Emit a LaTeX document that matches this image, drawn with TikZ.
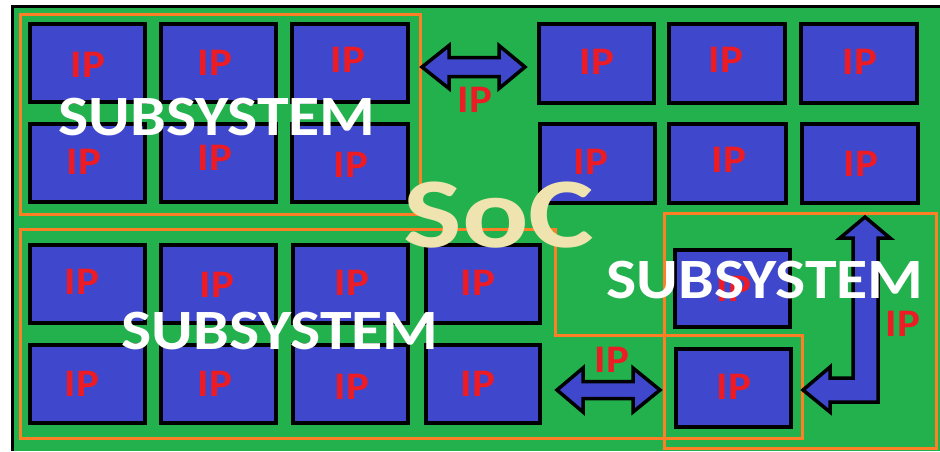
\documentclass[tikz,border=0pt]{standalone}
\usepackage{fontspec}
\setmainfont{Carlito}
\definecolor{pgreen}{HTML}{22B14C}
\definecolor{pblue}{HTML}{3F48CC}
\definecolor{pred}{HTML}{ED1C24}
\definecolor{porange}{HTML}{FF7F27}
\definecolor{pcream}{HTML}{EFE4B0}
\newcommand\ipbox[5]{\node[ipbox, minimum width={#4-#2-4}, minimum height={#5-#3-4}] (#1) at ({(#2+#4)/2},{(#3+#5)/2}) {};}
\newcommand\iplabel[3]{\node[iplab] (#1) at (#2,#3) {\scalebox{1.1}[1]{IP}};}
\begin{document}
\begin{tikzpicture}[x=1pt,y=-1pt,
  ipbox/.style={draw=black, line width=4pt, fill=pblue, inner sep=0pt, rectangle},
  iplab/.style={text=pred, font=\fontsize{39}{39}\selectfont\bfseries, inner sep=0pt},
  subsys/.style={draw=porange, line width=3pt},
  arrowshape/.style={fill=pblue, draw=black, line width=3.5pt, line join=miter},
  subtext/.style={text=white, font=\fontsize{57}{57}\selectfont\bfseries, inner sep=0pt},
  soctext/.style={text=pcream, font=\fontsize{100}{100}\selectfont\bfseries, inner sep=0pt}]
\useasboundingbox (0,0) rectangle (940,451);
\fill[white] (0,0) rectangle (940,451);
\fill[pgreen] (12,6) rectangle (940,451);
\draw[black, line width=3pt] (12,451) -- (12,6) -- (940,6);
% subsystem outlines
\draw[subsys] (20,14) rectangle (420,214);
\draw[subsys] (20,229) -- (555,229) -- (555,335) -- (802,335) -- (802,438) -- (20,438) -- cycle;
\draw[subsys] (664,213) rectangle (936,448);
% top-left IP boxes
\ipbox{a1}{28}{22}{147}{104}
\ipbox{a2}{159}{22}{278}{104}
\ipbox{a3}{290}{22}{410}{104}
\ipbox{a4}{28}{122}{147}{204}
\ipbox{a5}{159}{122}{278}{204}
\ipbox{a6}{290}{122}{410}{204}
% top-right IP boxes
\ipbox{b1}{537}{22}{656}{105}
\ipbox{b2}{667}{22}{787}{105}
\ipbox{b3}{799}{22}{919}{105}
\ipbox{b4}{538}{122}{657}{205}
\ipbox{b5}{667}{122}{788}{205}
\ipbox{b6}{800}{122}{920}{205}
% bottom-left IP boxes
\ipbox{c1}{28}{243}{147}{325}
\ipbox{c2}{159}{243}{278}{325}
\ipbox{c3}{291}{243}{410}{325}
\ipbox{c4}{424}{243}{542}{325}
\ipbox{c5}{28}{343}{147}{425}
\ipbox{c6}{159}{343}{278}{425}
\ipbox{c7}{291}{343}{410}{425}
\ipbox{c8}{424}{343}{542}{425}
% bottom-right IP boxes
\ipbox{d1}{673}{248}{792}{329}
\ipbox{d2}{674}{347}{793}{429}
% arrows
\draw[arrowshape] (422,67) -- (449,45.5) -- (449,57.5) -- (499,57.5) -- (499,45.5) -- (525,67)
  -- (499,88.5) -- (499,76.5) -- (449,76.5) -- (449,88.5) -- cycle;
\draw[arrowshape] (557,390) -- (583,368) -- (583,381.5) -- (633,381.5) -- (633,368) -- (660,390)
  -- (633,412) -- (633,398.5) -- (583,398.5) -- (583,412) -- cycle;
\draw[arrowshape] (865,217) -- (890,238) -- (878,238) -- (878,402) -- (830,402) -- (830,412)
  -- (803,390) -- (830,367) -- (830,378) -- (853,378) -- (853,238) -- (840,238) -- cycle;
% IP labels
\iplabel{la1}{88}{65}
\iplabel{la2}{215}{63}
\iplabel{la3}{348}{60}
\iplabel{la4}{84}{162}
\iplabel{la5}{215}{158}
\iplabel{la6}{351}{165}
\iplabel{lb1}{597}{62}
\iplabel{lb2}{726}{60}
\iplabel{lb3}{860}{62}
\iplabel{lb4}{591}{162}
\iplabel{lb5}{729}{160}
\iplabel{lb6}{861}{164}
\iplabel{lc1}{82}{282}
\iplabel{lc2}{217}{285}
\iplabel{lc3}{352}{283}
\iplabel{lc4}{478}{283}
\iplabel{lc5}{82}{384}
\iplabel{lc6}{215}{384}
\iplabel{lc7}{352}{387}
\iplabel{lc8}{478}{384}
\iplabel{ld1}{734}{289}
\iplabel{ld2}{734}{387}
\iplabel{le1}{475}{100}
\iplabel{le2}{612}{360}
\iplabel{le3}{903}{324}
% big texts
\node[soctext] (soc) at (499,215) {\scalebox{1.24}[1]{SoC}};
\node[subtext] (s1) at (217,117) {\scalebox{1.12}[1]{SUBSYSTEM}};
\node[subtext] (s2) at (280,331) {\scalebox{1.12}[1]{SUBSYSTEM}};
\node[subtext] (s3) at (765,280) {\scalebox{1.12}[1]{SUBSYSTEM}};
\end{tikzpicture}
\end{document}
